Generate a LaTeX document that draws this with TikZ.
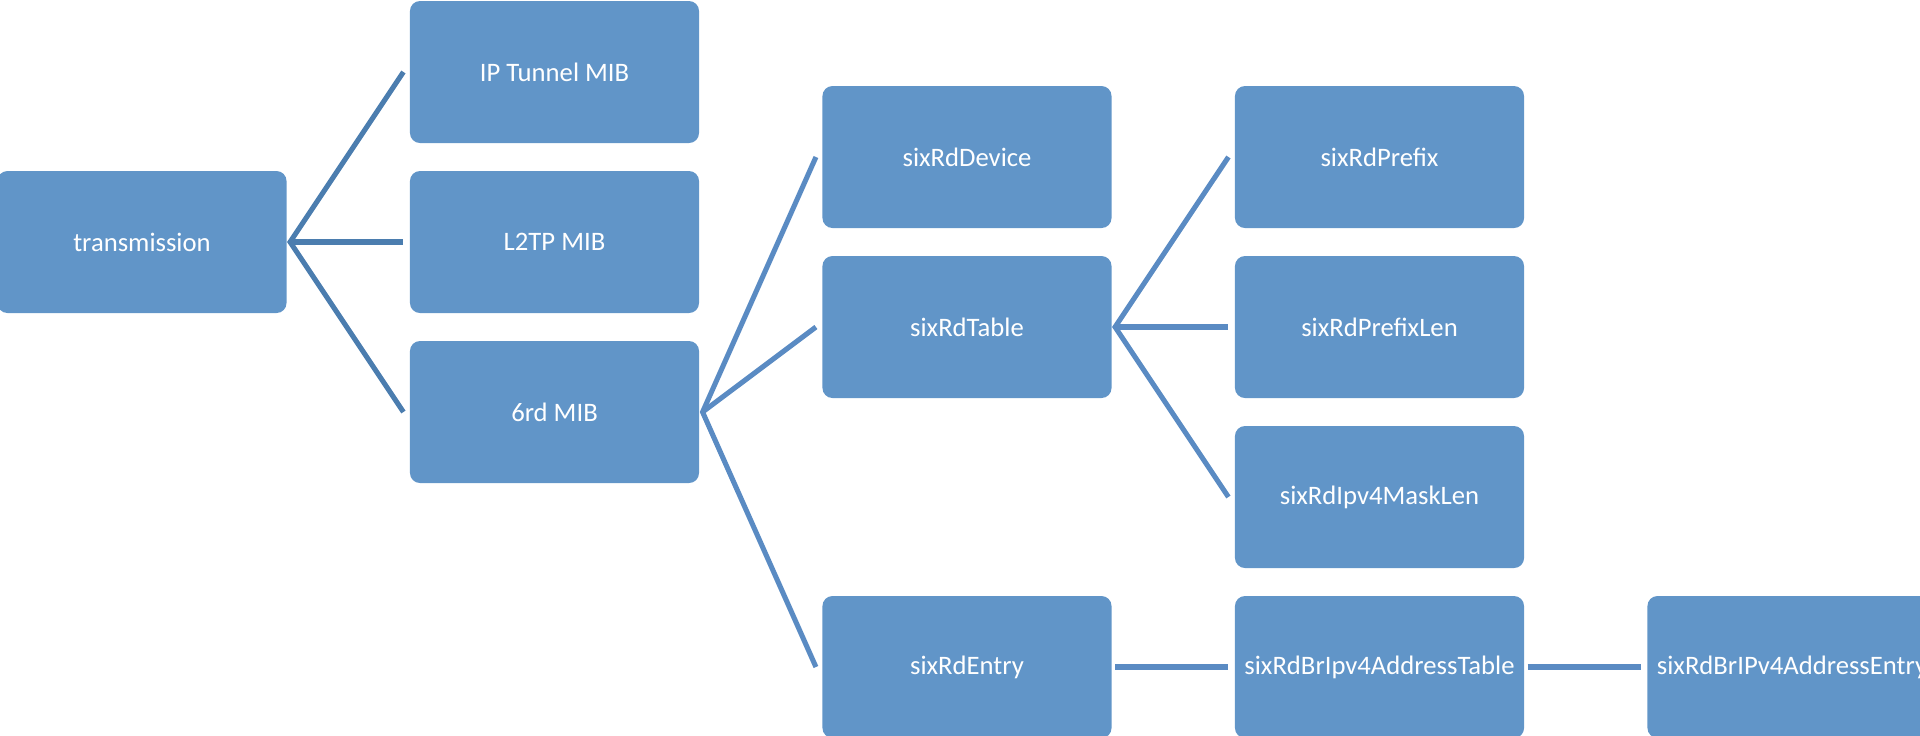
\documentclass[tikz,border=0pt]{standalone}
\usepackage{fontspec}
\setmainfont{Carlito}
\usetikzlibrary{calc}
\definecolor{boxfill}{HTML}{6195C8}
\definecolor{linedark}{HTML}{4B7DAF}
\definecolor{linelight}{HTML}{5A8BC3}
\tikzset{
  mib/.style={draw=none, fill=boxfill, rounded corners=3.75pt, minimum width=108.4pt, minimum height=53.25pt, inner sep=0pt, text=white, font=\fontsize{10}{12}\selectfont},
  link/.style={line width=1.9pt},
}
\begin{document}
\begin{tikzpicture}[x=0.375pt, y=-0.375pt]
\useasboundingbox (0,0) rectangle (1920,735);
\clip (0,0) rectangle (1920,735);
\node[mib] (tr) at (142,242) {transmission};
\node[mib] (ipt) at (554.5,72) {IP Tunnel MIB};
\node[mib] (l2tp) at (554.5,242) {L2TP MIB};
\node[mib] (srd) at (554.5,412) {6rd MIB};
\node[mib] (dev) at (967,157) {sixRdDevice};
\node[mib] (tab) at (967,327) {sixRdTable};
\node[mib] (ent) at (967,667) {sixRdEntry};
\node[mib] (pre) at (1379.5,157) {sixRdPrefix};
\node[mib] (plen) at (1379.5,327) {sixRdPrefixLen};
\node[mib] (mask) at (1379.5,497) {sixRdIpv4MaskLen};
\node[mib] (brt) at (1379.5,667) {sixRdBrIpv4AddressTable};
\node[mib] (bre) at (1792,667) {sixRdBrIPv4AddressEntry};
\draw[link, linedark] ($(ipt.west)+(-6,0)$) -- ($(tr.east)+(3,0)$) -- ($(srd.west)+(-6,0)$);
\draw[link, linedark] ($(tr.east)+(3,0)$) -- ($(l2tp.west)+(-6,0)$);
\draw[link, linelight] ($(dev.west)+(-6,0)$) -- ($(srd.east)+(3,0)$) -- ($(ent.west)+(-6,0)$);
\draw[link, linelight] ($(srd.east)+(3,0)$) -- ($(tab.west)+(-6,0)$);
\draw[link, linelight] ($(pre.west)+(-6,0)$) -- ($(tab.east)+(3,0)$) -- ($(mask.west)+(-6,0)$);
\draw[link, linelight] ($(tab.east)+(3,0)$) -- ($(plen.west)+(-6,0)$);
\draw[link, linelight] ($(ent.east)+(3,0)$) -- ($(brt.west)+(-6,0)$);
\draw[link, linelight] ($(brt.east)+(3,0)$) -- ($(bre.west)+(-6,0)$);
\end{tikzpicture}
\end{document}
